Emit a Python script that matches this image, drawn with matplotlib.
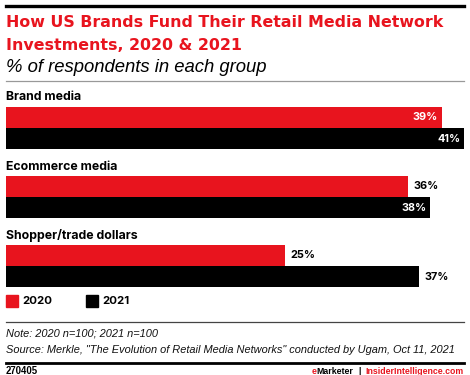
import matplotlib
matplotlib.use("Agg")
import matplotlib.pyplot as plt
from matplotlib.patches import Rectangle
from matplotlib.lines import Line2D

categories = ["Brand media", "Ecommerce media", "Shopper/trade dollars"]
series_names = ["2020", "2021"]
values_2020 = [39, 36, 25]
values_2021 = [41, 38, 37]
title_lines = ["How US Brands Fund Their Retail Media Network", "Investments, 2020 & 2021"]
subtitle = "% of respondents in each group"
note = "Note: 2020 n=100; 2021 n=100"
source = 'Source: Merkle, "The Evolution of Retail Media Networks" conducted by Ugam, Oct 11, 2021'
chart_id = "270405"

RED = "#e8141e"
BLACK = "#000000"
TITLE_FONT = "DejaVu Sans"
BOLD_FONT = "Inter"
TEXT_FONT = "Liberation Sans"

W, H = 470, 375
fig = plt.figure(figsize=(W / 100, H / 100), dpi=100)
renderer = fig.canvas.get_renderer()


def fx(px):
    return px / W


def fy(py):
    return 1 - py / H


def fit_size(text, width_px, **kw):
    t = fig.text(0, 0, text, fontsize=10, **kw)
    w = t.get_window_extent(renderer).width
    t.remove()
    return 10 * width_px / w


def put(x, y, text, width_px=None, size=None, ha="left", **kw):
    if width_px is not None:
        size = fit_size(text, width_px, **kw)
    return fig.text(fx(x), fy(y), text, fontsize=size, ha=ha, va="center", **kw)


# top rule
fig.add_artist(Line2D([fx(6), fx(464)], [fy(6), fy(6)], color="black", lw=2.4))
tkw = dict(color=RED, fontweight="bold", family=TITLE_FONT)
ts = fit_size(title_lines[0], 439, **tkw)
put(6, 22.5, title_lines[0], size=ts, **tkw)
put(6, 45, title_lines[1], size=ts, **tkw)
put(6, 68, subtitle, width_px=262, color="black", style="italic", family=TEXT_FONT)
fig.add_artist(Line2D([fx(6), fx(464)], [fy(81), fy(81)], color="#999999", lw=0.9))

# bars axes
unit = 69.0
top_px, bot_px = 107, 287
ax = fig.add_axes([fx(6), fy(bot_px), fx(464) - fx(6), (bot_px - top_px) / H])
h = 21.3 / unit
ax.set_ylim(2 + (bot_px - 266) / unit, -(128 - top_px) / unit)
ax.set_xlim(0, 41)
ax.axis("off")

ys = list(range(len(categories)))
ax.barh([y - h / 2 for y in ys], values_2020, height=h, color=RED)
ax.barh([y + h / 2 for y in ys], values_2021, height=h, color=BLACK)

bkw = dict(fontweight="bold", family=BOLD_FONT)
cat_size = fit_size(categories[2], 132, **bkw)
for y, cat in zip(ys, categories):
    ax.text(0, y - 30.5 / unit, cat, fontsize=cat_size, va="center", ha="left",
            clip_on=False, **bkw)

val_size = fit_size("39%", 25, **bkw)
inside = {(0, 0): True, (0, 1): True, (1, 0): False, (1, 1): True, (2, 0): False, (2, 1): False}
for i, y in enumerate(ys):
    for s, (vals, yy) in enumerate([(values_2020, y - h / 2), (values_2021, y + h / 2)]):
        v = vals[i]
        if inside[(i, s)]:
            ax.annotate(f"{v}%", (v, yy), xytext=(-2.5, 0), textcoords="offset points",
                        ha="right", va="center", color="white", fontsize=val_size,
                        annotation_clip=False, **bkw)
        else:
            ax.annotate(f"{v}%", (v, yy), xytext=(3.5, 0), textcoords="offset points",
                        ha="left", va="center", color="black", fontsize=val_size,
                        annotation_clip=False, **bkw)

# legend
leg_size = fit_size("2020", 30, **bkw)
for x0, col, name in [(6, RED, series_names[0]), (86, BLACK, series_names[1])]:
    fig.add_artist(Rectangle((fx(x0), fy(307)), fx(12), 12 / H, color=col,
                             transform=fig.transFigure))
    put(x0 + 16, 301, name, size=leg_size, **bkw)

fig.add_artist(Line2D([fx(6), fx(464)], [fy(322), fy(322)], color="#444444", lw=0.9))
ikw = dict(style="italic", family=TEXT_FONT, color="#111111")
src_size = fit_size(source, 452, **ikw)
put(6, 334, note, size=src_size, **ikw)
put(6, 350, source, size=src_size, **ikw)
fig.add_artist(Line2D([fx(6), fx(464)], [fy(362.5), fy(362.5)], color="black", lw=2.0))

fkw = dict(fontweight="bold", family=TEXT_FONT)
put(6, 371.5, chart_id, width_px=32, **fkw)
foot_size = fit_size("InsiderIntelligence.com", 97, **fkw)
put(464, 371.5, "InsiderIntelligence.com", size=foot_size, ha="right", color=RED, **fkw)
put(360, 371.5, "|", size=foot_size, ha="center", color="black", **fkw)
t0 = put(353, 371.5, "Marketer", size=foot_size, ha="right", color="black", **fkw)
bb = t0.get_window_extent(renderer)
fig.text(bb.x0 / W, fy(371.5), "e", fontsize=foot_size, ha="right", va="center",
         color=RED, **fkw)

fig.savefig("out.png", dpi=100)
